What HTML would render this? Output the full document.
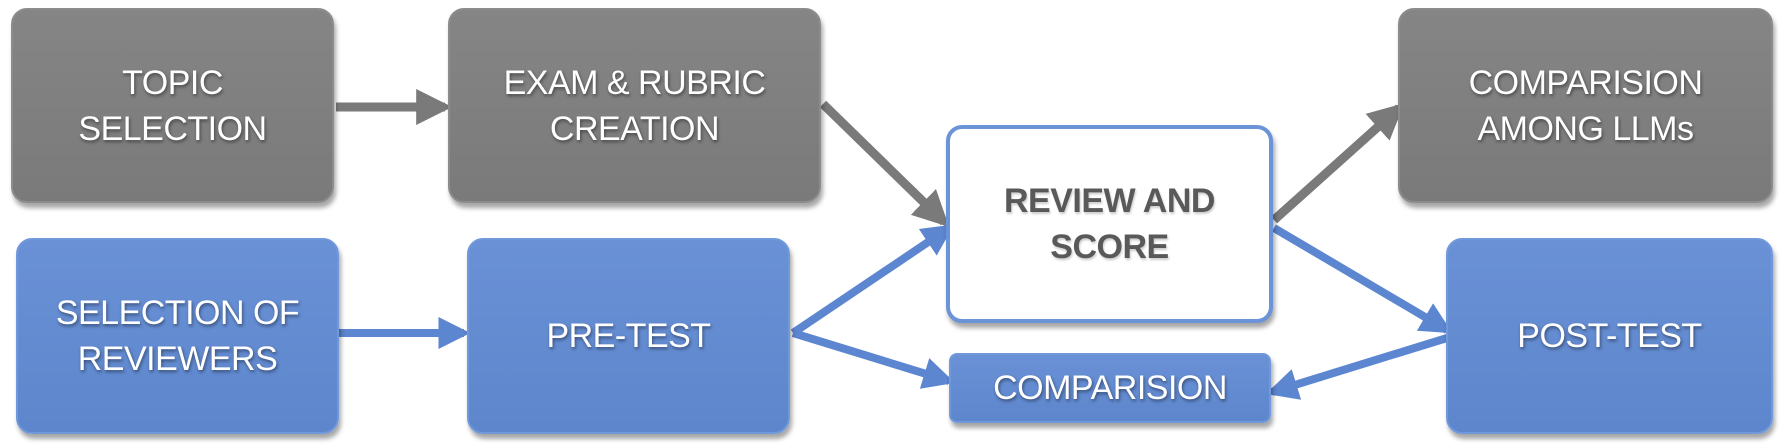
<!DOCTYPE html>
<html><head><meta charset="utf-8"><style>
html,body{margin:0;padding:0;background:#fff}
body{width:1784px;height:448px;position:relative;overflow:hidden;font-family:"Liberation Sans",sans-serif}
.b{position:absolute;box-sizing:border-box;border-radius:16px;display:flex;align-items:center;justify-content:center;text-align:center;color:#fff;font-size:34px;line-height:46px;text-shadow:1px 2px 3px rgba(0,0,0,.45);box-shadow:2px 5px 5px rgba(0,0,0,.35);letter-spacing:-0.5px}
.g{background:linear-gradient(#858585,#7a7a7a);border:2px solid #8c8c8c}
.u{background:linear-gradient(#6a91d6,#5d86cc);border:2px solid #7099dc}
svg{position:absolute;left:0;top:0}
</style></head><body>
<svg width="1784" height="448">
<defs>
<marker id="ag" markerWidth="4" markerHeight="4" refX="3.2" refY="2" orient="auto" markerUnits="strokeWidth"><path d="M0,0 L4,2 L0,4 z" fill="#7a7a7a"/></marker>
<marker id="ab" markerWidth="4" markerHeight="4" refX="3.2" refY="2" orient="auto" markerUnits="strokeWidth"><path d="M0,0 L4,2 L0,4 z" fill="#5d86d0"/></marker>
</defs>
<g stroke="#7a7a7a" stroke-width="9" fill="none">
<line x1="336" y1="107" x2="445" y2="107" marker-end="url(#ag)"/>
<line x1="823" y1="104" x2="944" y2="222" marker-end="url(#ag)"/>
<line x1="1274" y1="220" x2="1399" y2="108" marker-end="url(#ag)"/>
</g>
<g stroke="#5d86d0" stroke-width="8" fill="none">
<line x1="339" y1="333" x2="464" y2="333" marker-end="url(#ab)"/>
<line x1="793" y1="333" x2="949" y2="228" marker-end="url(#ab)"/>
<line x1="793" y1="333" x2="949" y2="381" marker-end="url(#ab)"/>
<line x1="1274" y1="228" x2="1447" y2="330" marker-end="url(#ab)"/>
<line x1="1447" y1="338" x2="1272" y2="392" marker-end="url(#ab)"/>
</g>
</svg>
<div class="b g" style="left:11px;top:8px;width:323px;height:195px">TOPIC<br>SELECTION</div>
<div class="b g" style="left:448px;top:8px;width:373px;height:195px">EXAM &amp; RUBRIC<br>CREATION</div>
<div class="b g" style="left:1398px;top:8px;width:375px;height:195px">COMPARISION<br>AMONG LLMs</div>
<div class="b" style="left:946px;top:125px;width:327px;height:198px;background:#fff;border:4px solid #6a93d8;color:#595959;font-weight:bold;text-shadow:1px 2px 2px rgba(0,0,0,.2)">REVIEW AND<br>SCORE</div>
<div class="b u" style="left:16px;top:238px;width:323px;height:196px">SELECTION OF<br>REVIEWERS</div>
<div class="b u" style="left:467px;top:238px;width:323px;height:196px">PRE-TEST</div>
<div class="b u" style="left:949px;top:353px;width:322px;height:70px;border-radius:8px">COMPARISION</div>
<div class="b u" style="left:1446px;top:238px;width:327px;height:196px">POST-TEST</div>
</body></html>
